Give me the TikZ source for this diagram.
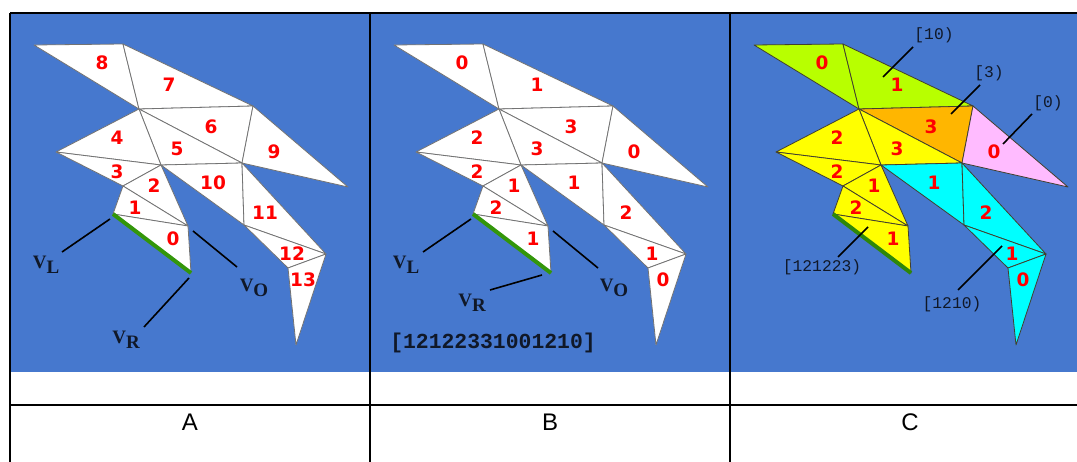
\documentclass[tikz,border=0pt]{standalone}
\usepackage{fontspec}
\setmainfont{Liberation Sans}
\newfontfamily\digitfont{DejaVu Sans}
\newfontfamily\monor{Liberation Mono}
\newfontfamily\serifb{Liberation Serif}
\definecolor{skyb}{HTML}{4678CE}
\definecolor{lime}{HTML}{B8FF00}
\definecolor{orng}{HTML}{FFB600}
\definecolor{pnk}{HTML}{FFBBFF}
\definecolor{yel}{HTML}{FFFF00}
\definecolor{cyn}{HTML}{00FFFF}
\definecolor{redd}{HTML}{FF0000}
\definecolor{edgeg}{HTML}{33960A}
\definecolor{labelk}{HTML}{101828}
\tikzset{
  tri/.style={draw=black!55,line width=0.8pt,line join=round},
  num/.style={inner sep=0pt,text=redd,font=\digitfont\bfseries\fontsize{18.5}{18}\selectfont},
  vlab/.style={inner sep=0pt,text=labelk,font=\serifb\bfseries\fontsize{19}{19}\selectfont},
  seqlab/.style={inner sep=0pt,text=labelk,font=\monor\bfseries\fontsize{21.4}{21}\selectfont},
  lead/.style={draw=black,line width=1.6pt},
  smalllab/.style={inner sep=0pt,text=labelk,font=\monor\fontsize{16.3}{16}\selectfont},
  captxt/.style={inner sep=0pt,font=\fontsize{24}{24}\selectfont},
  tablerule/.style={draw=black,line width=1.5pt},
  hedge/.style={draw=edgeg,line width=4pt}
}
\newcommand{\trg}[4]{\filldraw[tri,fill=#1] (\p#2) -- (\p#3) -- (\p#4) -- cycle;}
\newcommand{\subl}[2]{#1\raisebox{-5pt}{#2}}
\begin{document}
\begin{tikzpicture}[x=1pt,y=-1pt]
\useasboundingbox (0,0) rectangle (1077,462);
\fill[white] (0,0) rectangle (1077,462);
\fill[skyb] (11,13) rectangle (1077,372);
\foreach \p/\dx in {A/0,B/360,C/720}{
  \begin{scope}[xshift=\dx pt]
  \coordinate (\p a) at (34,45);
  \coordinate (\p b) at (123,44);
  \coordinate (\p c) at (139,109);
  \coordinate (\p d) at (253,106);
  \coordinate (\p e) at (242,163);
  \coordinate (\p f) at (161,165);
  \coordinate (\p g) at (56,152);
  \coordinate (\p h) at (123,186);
  \coordinate (\p i) at (348,187);
  \coordinate (\p j) at (113,214);
  \coordinate (\p k) at (188,226);
  \coordinate (\p l) at (191,273);
  \coordinate (\p m) at (244,225);
  \coordinate (\p n) at (326,254);
  \coordinate (\p o) at (288,268);
  \coordinate (\p p) at (296,345);
  \end{scope}
}
% panels A and B: white mesh
\foreach \p in {A,B}{
  \trg{white}{a}{b}{c}\trg{white}{b}{c}{d}\trg{white}{c}{d}{e}\trg{white}{c}{e}{f}
  \trg{white}{c}{f}{g}\trg{white}{g}{f}{h}\trg{white}{f}{h}{k}\trg{white}{h}{j}{k}
  \trg{white}{j}{k}{l}\trg{white}{d}{e}{i}\trg{white}{f}{e}{m}\trg{white}{e}{m}{n}
  \trg{white}{m}{n}{o}\trg{white}{n}{o}{p}
  \draw[hedge] (\p j) -- (\p l);
}
% panel C: coloured mesh
\def\p{C}
\begin{scope}[tri/.append style={draw=black!70!olive}]
\trg{lime}{a}{b}{c}\trg{lime}{b}{c}{d}\trg{orng}{c}{d}{e}\trg{yel}{c}{e}{f}
\trg{yel}{c}{f}{g}\trg{yel}{g}{f}{h}\trg{yel}{f}{h}{k}\trg{yel}{h}{j}{k}
\trg{yel}{j}{k}{l}\trg{pnk}{d}{e}{i}\trg{cyn}{f}{e}{m}\trg{cyn}{e}{m}{n}
\trg{cyn}{m}{n}{o}\trg{cyn}{n}{o}{p}
\end{scope}
\draw[hedge,draw=edgeg!90!black] (Cj) -- (Cl);
% numbers A
\node[num] (a8) at (102,63) {8};
\node[num] (a7) at (169,85) {7};
\node[num] (a6) at (211,127) {6};
\node[num] (a5) at (177,149) {5};
\node[num] (a4) at (117,138) {4};
\node[num] (a3) at (117,172) {3};
\node[num] (a2) at (154,186) {2};
\node[num] (a1) at (135,208) {1};
\node[num] (a0) at (173,239) {0};
\node[num] (a9) at (274,152) {9};
\node[num] (a10) at (213,183) {10};
\node[num] (a11) at (265,213) {11};
\node[num] (a12) at (292,254) {12};
\node[num] (a13) at (303,280) {13};
% numbers B and C
\foreach \p/\dx in {b/360,c/720}{
  \begin{scope}[xshift=\dx pt]
  \node[num] (\p8) at (102,63) {0};
  \node[num] (\p7) at (177,85) {1};
  \node[num] (\p6) at (211,127) {3};
  \node[num] (\p5) at (177,149) {3};
  \node[num] (\p4) at (117,138) {2};
  \node[num] (\p3) at (117,172) {2};
  \node[num] (\p2) at (154,186) {1};
  \node[num] (\p1) at (136,208) {2};
  \node[num] (\p0) at (173,239) {1};
  \node[num] (\p9) at (274,152) {0};
  \node[num] (\p10) at (214,183) {1};
  \node[num] (\p11) at (266,213) {2};
  \node[num] (\p12) at (292,254) {1};
  \node[num] (\p13) at (303,280) {0};
  \end{scope}
}
% A callouts
\node[vlab] (aVL) at (46,265) {\subl{V}{L}};
\node[vlab] (aVO) at (254,288) {\subl{V}{O}};
\node[vlab] (aVR) at (126,340) {\subl{V}{R}};
\coordinate (aLa) at (110,219); \coordinate (aLb) at (62,252);
\coordinate (aOa) at (193,231); \coordinate (aOb) at (237,267);
\coordinate (aRa) at (189,278); \coordinate (aRb) at (144,327);
\draw[lead] (aLa) -- (aLb);
\draw[lead] (aOa) -- (aOb);
\draw[lead] (aRa) -- (aRb);
% B callouts
\node[vlab] (bVL) at (406,265) {\subl{V}{L}};
\node[vlab] (bVO) at (614,288) {\subl{V}{O}};
\node[vlab] (bVR) at (472,303) {\subl{V}{R}};
\coordinate (bLa) at (471,219); \coordinate (bLb) at (423,252);
\coordinate (bOa) at (553,231); \coordinate (bOb) at (598,268);
\coordinate (bRa) at (542,275); \coordinate (bRb) at (490,290);
\draw[lead] (bLa) -- (bLb);
\draw[lead] (bOa) -- (bOb);
\draw[lead] (bRa) -- (bRb);
\node[seqlab] (seq) at (493,343) {[12122331001210]};
% C callouts
\node[smalllab] (t10) at (934,35) {[10)};
\node[smalllab] (t3) at (989,73) {[3)};
\node[smalllab] (t0) at (1048,103) {[0)};
\node[smalllab] (t121223) at (822,267) {[121223)};
\node[smalllab] (t1210) at (952,304) {[1210)};
\coordinate (c10a) at (913,47); \coordinate (c10b) at (883,77);
\coordinate (c3a) at (980,85); \coordinate (c3b) at (951,114);
\coordinate (c0a) at (1032,114); \coordinate (c0b) at (1003,144);
\coordinate (c1a) at (868,227); \coordinate (c1b) at (838,257);
\coordinate (c2a) at (1002,246); \coordinate (c2b) at (958,290);
\draw[lead] (c10a) -- (c10b);
\draw[lead] (c3a) -- (c3b);
\draw[lead] (c0a) -- (c0b);
\draw[lead] (c1a) -- (c1b);
\draw[lead] (c2a) -- (c2b);
% table rules
\coordinate (tl) at (10,13); \coordinate (tr) at (1077,13);
\coordinate (ml) at (10,405); \coordinate (mr) at (1077,405);
\draw[tablerule] (tl) -- (tr);
\draw[tablerule] (ml) -- (mr);
\foreach \x in {10,370,730}{ \draw[tablerule] (\x,13) -- (\x,462); }
\node[captxt] (capA) at (190,422) {A};
\node[captxt] (capB) at (550,422) {B};
\node[captxt] (capC) at (910,422) {C};
\end{tikzpicture}
\end{document}
